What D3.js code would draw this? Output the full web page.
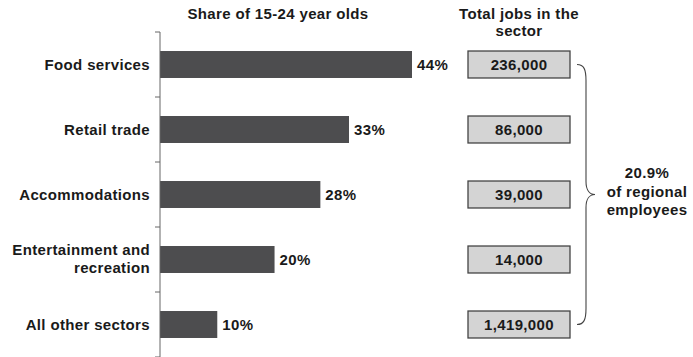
<!DOCTYPE html>
<html>
<head>
<meta charset="utf-8">
<script src="https://cdn.jsdelivr.net/npm/d3@7"></script>
<style>
  body { margin: 0; background: #fff; }
  svg text { font-family: "Liberation Sans", Arial, sans-serif; font-weight: bold; font-size: 15px; letter-spacing: 0.35px; fill: #1a1a1a; }
</style>
</head>
<body>
<div class="d3-container"></div>
<script>
// chart data
const categories = ["Food services", "Retail trade", "Accommodations", "Entertainment and\nrecreation", "All other sectors"];
const shares = [44, 33, 28, 20, 10];
const jobs = [236000, 86000, 39000, 14000, 1419000];
const summaryLines = ["20.9%", "of regional", "employees"];

const width = 693;
const height = 357;

const svg = d3.select(".d3-container")
  .append("svg")
  .attr("width", width)
  .attr("height", height);

// y band scale, ticks sit on the band edges
const y = d3.scaleBand()
  .domain(categories)
  .range([32, 357])
  .paddingInner(0.585)
  .paddingOuter(0.2925);

// x scale for the share bars
const x = d3.scaleLinear()
  .domain([0, 44])
  .range([160, 412]);

const gap = (y.step() - y.bandwidth()) / 2;
const mid = d => y(d) + y.bandwidth() / 2;

// headings
svg.append("text")
  .attr("x", 278).attr("y", 19)
  .attr("text-anchor", "middle")
  .text("Share of 15-24 year olds");

svg.append("text")
  .attr("x", 519).attr("y", 19)
  .attr("text-anchor", "middle")
  .text("Total jobs in the");
svg.append("text")
  .attr("x", 519).attr("y", 36)
  .attr("text-anchor", "middle")
  .text("sector");

// bars
svg.append("g")
  .attr("fill", "#4d4d4f")
  .selectAll("rect")
  .data(categories)
  .join("rect")
  .attr("x", x(0))
  .attr("y", d => y(d))
  .attr("height", y.bandwidth())
  .attr("width", (d, i) => x(shares[i]) - x(0));

// value labels
svg.append("g")
  .selectAll("text")
  .data(categories)
  .join("text")
  .attr("x", (d, i) => x(shares[i]) + 5)
  .attr("y", d => mid(d) + 5.5)
  .text((d, i) => shares[i] + "%");

// vertical axis with ticks between categories
const axis = svg.append("g").attr("stroke", "#666").attr("stroke-width", 1);
axis.append("line")
  .attr("x1", x(0)).attr("x2", x(0))
  .attr("y1", y.range()[0]).attr("y2", y.range()[1]);
const tickYs = categories.map(d => y(d) - gap).concat([y(categories[categories.length - 1]) + y.bandwidth() + gap]);
axis.selectAll(".tick")
  .data(tickYs)
  .join("line")
  .attr("x1", x(0) - 5).attr("x2", x(0))
  .attr("y1", d => d).attr("y2", d => d);

// category labels
const cat = svg.append("g")
  .attr("text-anchor", "end")
  .selectAll("text")
  .data(categories)
  .join("text")
  .attr("x", 150)
  .attr("y", d => mid(d) + 5.5);
cat.each(function(d) {
  const lines = d.split("\n");
  const t = d3.select(this);
  if (lines.length > 1) t.attr("y", mid(d) - 4.5);
  lines.forEach((l, i) => {
    t.append("tspan").attr("x", 150).attr("dy", i === 0 ? 0 : 18).text(l);
  });
});

// job boxes
const fmt = d3.format(",");
const boxes = svg.append("g");
boxes.selectAll("rect")
  .data(categories)
  .join("rect")
  .attr("x", 468)
  .attr("y", d => y(d))
  .attr("width", 102)
  .attr("height", y.bandwidth())
  .attr("fill", "#d4d4d4")
  .attr("stroke", "#444")
  .attr("stroke-width", 1.3);
boxes.selectAll("text")
  .data(categories)
  .join("text")
  .attr("x", 519)
  .attr("y", d => mid(d) + 5.5)
  .attr("text-anchor", "middle")
  .text((d, i) => fmt(jobs[i]));

// curly brace
const braceTop = mid(categories[0]);
const braceBot = mid(categories[categories.length - 1]);
const cy = (braceTop + braceBot) / 2;
const bx = 586;
const brace = d3.path();
brace.moveTo(577, braceTop);
brace.bezierCurveTo(584, braceTop, bx, braceTop + 5, bx, braceTop + 16);
brace.lineTo(bx, cy - 13);
brace.bezierCurveTo(bx, cy - 4, 590, cy, 595, cy);
brace.bezierCurveTo(590, cy, bx, cy + 4, bx, cy + 13);
brace.lineTo(bx, braceBot - 16);
brace.bezierCurveTo(bx, braceBot - 5, 584, braceBot, 577, braceBot);
svg.append("path")
  .attr("d", brace.toString())
  .attr("fill", "none")
  .attr("stroke", "#444")
  .attr("stroke-width", 1.1);

// summary text
svg.append("g")
  .attr("text-anchor", "middle")
  .selectAll("text")
  .data(summaryLines)
  .join("text")
  .attr("x", 647)
  .attr("y", (d, i) => 178 + i * 18.5)
  .text(d => d);
</script>
</body>
</html>
